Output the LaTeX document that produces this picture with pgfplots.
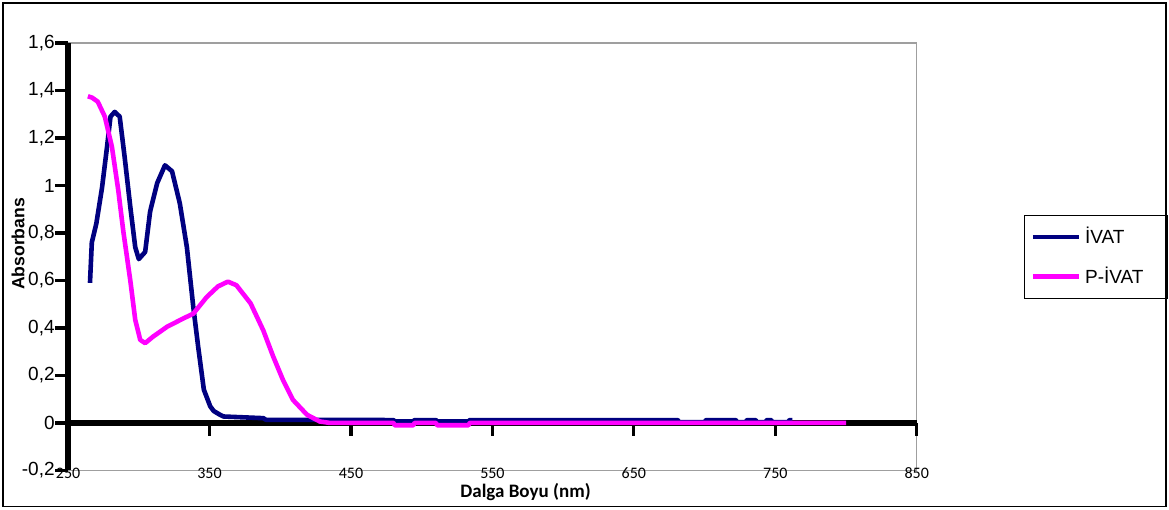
\documentclass[border=0pt]{standalone}
\usepackage{fontspec}
\setmainfont{Liberation Sans}
\newfontfamily\carlito{Carlito}
\usepackage{pgfplots}
\usepackage{pgfplotstable}
\pgfplotsset{compat=1.18}

\definecolor{ivatcol}{RGB}{0,0,128}
\definecolor{pivatcol}{RGB}{255,0,255}

% IVAT absorbance
\pgfplotstableread{
x y
265.5 0.59
266.8 0.76
270 0.84
274 0.99
277.5 1.16
280 1.29
283 1.31
286.5 1.29
290 1.12
294 0.91
297.5 0.74
300 0.69
304.5 0.72
308 0.89
313 1.01
318.5 1.085
323.5 1.06
329 0.925
334 0.74
338.5 0.49
342 0.32
346 0.14
350.5 0.07
353 0.05
357.5 0.034
360 0.027
388 0.02
390 0.013
480 0.012
481 0.006
494 0.006
495 0.012
510 0.012
511 0.006
533 0.006
534 0.012
681 0.012
682 0.003
700 0.003
701 0.012
722 0.012
723 0.003
729 0.003
730 0.012
736 0.012
737 0.003
743 0.003
744 0.012
747 0.012
748 0.003
759 0.003
760 0.012
762 0.012
}\ivat

% P-IVAT absorbance
\pgfplotstableread{
x y
264 1.376
267 1.37
271 1.353
276 1.29
281 1.163
285.5 0.98
289 0.81
294 0.60
297.5 0.434
301 0.35
304.5 0.336
310 0.363
320 0.405
331.5 0.44
338.5 0.46
348 0.53
356 0.575
363 0.595
369 0.58
379 0.504
388 0.39
395 0.28
402 0.18
409 0.097
419 0.034
428 0.006
435 0.0
480 0.0
481 -0.01
494 -0.01
495 0.0
510 0.0
511 -0.01
533 -0.01
534 0.0
800 0.0
}\pivat

\pgfplotsset{
  base/.style={
    width=424pt, height=213.5pt, scale only axis,
    xmin=250, xmax=850, ymin=-0.2, ymax=1.6,
    xtick={250,350,...,850},
    ytick={-0.2,0,0.2,0.4,0.6,0.8,1,1.2,1.4,1.6},
  },
}

\begin{document}
\begin{tikzpicture}
% frame, labels
\begin{axis}[base, name=main,
  axis line style={draw=gray!75, line width=0.6pt},
  major tick length=0pt,
  /pgf/number format/assume math mode=true,
  /pgf/number format/use comma,
  /pgf/number format/fixed,
  /pgf/number format/precision=1,
  yticklabel style={font=\fontsize{9.5}{10}\selectfont, inner sep=0pt, xshift=-6.5pt},
  xticklabel style={font=\carlito\fontsize{8}{8}\selectfont, inner sep=0pt, yshift=1.5pt},
  xlabel={Dalga Boyu (nm)},
  xlabel style={font=\carlito\bfseries\fontsize{9.5}{10}\selectfont, at={(axis description cs:0.539,-0.0515)}, anchor=center},
  ylabel={Absorbans},
  ylabel style={font=\bfseries\fontsize{8.8}{9}\selectfont, at={(axis description cs:-0.059,0.53)}, anchor=center},
]
\end{axis}
% black axis lines at x=250 and y=0
\begin{axis}[base, clip=false,
  axis x line=middle, axis y line=left,
  x axis line style={-, draw=black, line width=2.6pt},
  y axis line style={-, draw=black, line width=2.6pt},
  xticklabels={}, yticklabels={},
  tick style={black, line width=1.6pt},
  major tick length=6.5pt,
  tick align=outside,
  hide obscured x ticks=false, hide obscured y ticks=false,
]
\end{axis}
% curves
\begin{axis}[base, hide axis, clip=false,
  legend style={at={(axis description cs:1,0.5)}, anchor=west, xshift=53.5pt,
    draw=black, line width=0.6pt, font=\fontsize{9.5}{10}\selectfont,
    inner xsep=3pt, inner ysep=4pt, row sep=6pt},
  legend cell align=left,
  legend image code/.code={\draw[#1, line width=2.3pt] (0pt,0pt) -- (23pt,0pt);},
]
\addplot[ivatcol, line width=2.3pt, line join=round] table {\ivat};
\addlegendentry{\makebox[36pt][l]{İVAT}}
\addplot[pivatcol, line width=2.3pt, line join=round] table {\pivat};
\addlegendentry{\makebox[36pt][l]{P-İVAT}}
\end{axis}
% heavy black y axis line as a filled strip
\fill[black] ([xshift=-1.3pt]main.south west) rectangle ([xshift=1.3pt]main.north west);
\draw[black, line width=0.8pt] ([shift={(-32.5pt,-18pt)}]main.south west) rectangle ([shift={(124.5pt,20pt)}]main.north east);
\path ([shift={(-34pt,-19.5pt)}]main.south west) rectangle ([shift={(126pt,21.5pt)}]main.north east);
\end{tikzpicture}
\end{document}
